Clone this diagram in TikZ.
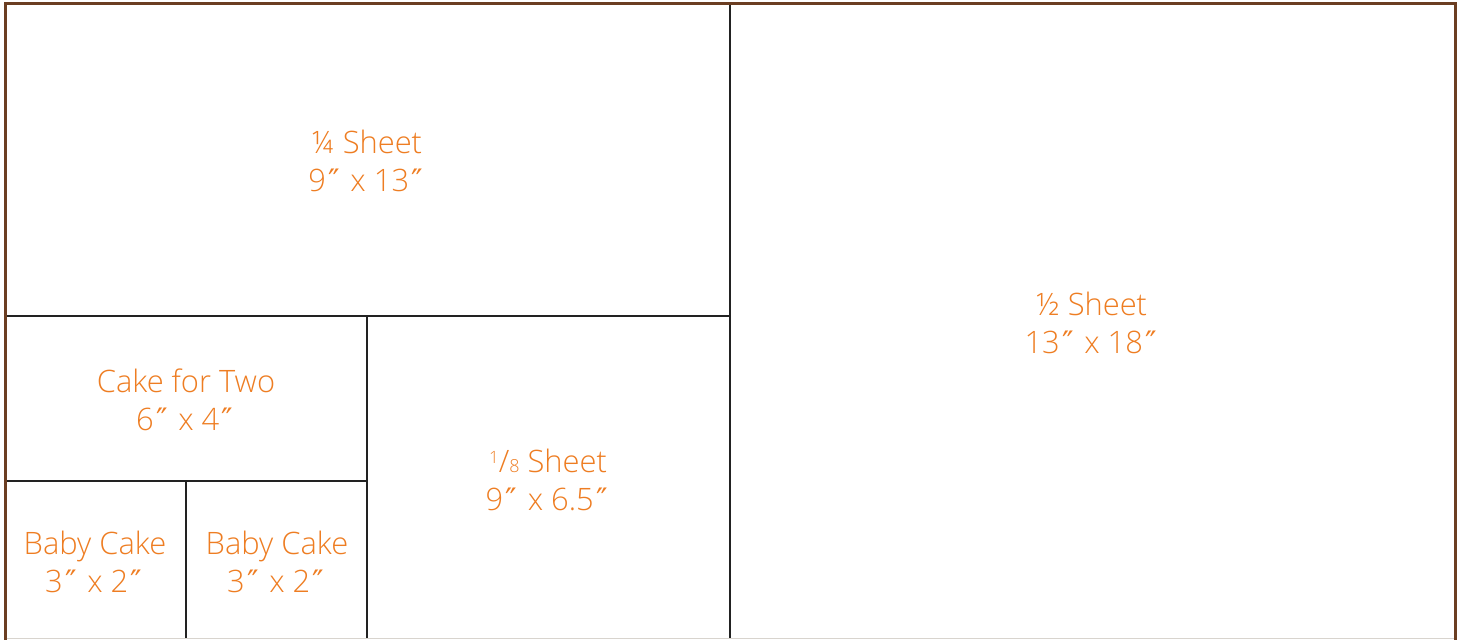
\documentclass[tikz,border=0pt]{standalone}
\usepackage{fontspec}
\setmainfont{Open Sans Light}
\newfontfamily\inchfont{DejaVu Sans}
\definecolor{brownb}{HTML}{6B3E22}
\definecolor{lineg}{HTML}{222222}
\definecolor{orangeT}{HTML}{EE7D22}
\definecolor{botg}{HTML}{D8D4CE}
\newcommand{\inch}{\kern2.5bp{\inchfont ″}\kern2.5bp}
\begin{document}
\begin{tikzpicture}[x=1bp,y=-1bp,
  lbl/.style={text=orangeT, font=\fontsize{31}{38}\selectfont, align=center, inner sep=0pt},
  div/.style={draw=lineg, line width=2.5bp},
  frame/.style={draw=brownb, line width=3bp}]
\useasboundingbox (0,0) rectangle (1463,640);
\fill[white] (0,0) rectangle (1463,640);
% internal dividers
\coordinate (v1t) at (730,3);
\coordinate (v1b) at (730,638);
\coordinate (h1l) at (5,316);
\coordinate (h1r) at (730,316);
\coordinate (v2t) at (367,316);
\coordinate (v2b) at (367,638);
\coordinate (h2l) at (5,481);
\coordinate (h2r) at (367,481);
\coordinate (v3t) at (186,481);
\coordinate (v3b) at (186,638);
\draw[div] (v1t) -- (v1b);
\draw[div] (h1l) -- (h1r);
\draw[div] (v2t) -- (v2b);
\draw[div] (h2l) -- (h2r);
\draw[div] (v3t) -- (v3b);
% frame
\coordinate (fbl) at (5,640);
\coordinate (ftl) at (5,3.5);
\coordinate (ftr) at (1455,3.5);
\coordinate (fbr) at (1455,640);
\draw[frame] (fbl) -- (ftl) -- (ftr) -- (fbr);
\draw[botg, line width=1.5bp] (6.5,638.5) -- (1453.5,638.5);
% labels
\node[lbl] (quarter) at (367,161) {¼ Sheet\\9\inch{} x 13\inch};
\node[lbl] (half) at (1092,323) {½ Sheet\\13\inch{} x 18\inch};
\node[lbl] (two) at (186,400) {Cake for Two\\6\inch{} x 4\inch};
\node[lbl] (eighth) at (548,480) {\raisebox{0.55ex}{\fontsize{17}{17}\selectfont 1}/{\fontsize{18}{18}\selectfont 8} Sheet\\9\inch{} x 6.5\inch};
\node[lbl] (baby1) at (95,562) {Baby Cake\\3\inch{} x 2\inch};
\node[lbl] (baby2) at (277,562) {Baby Cake\\3\inch{} x 2\inch};
\end{tikzpicture}
\end{document}
